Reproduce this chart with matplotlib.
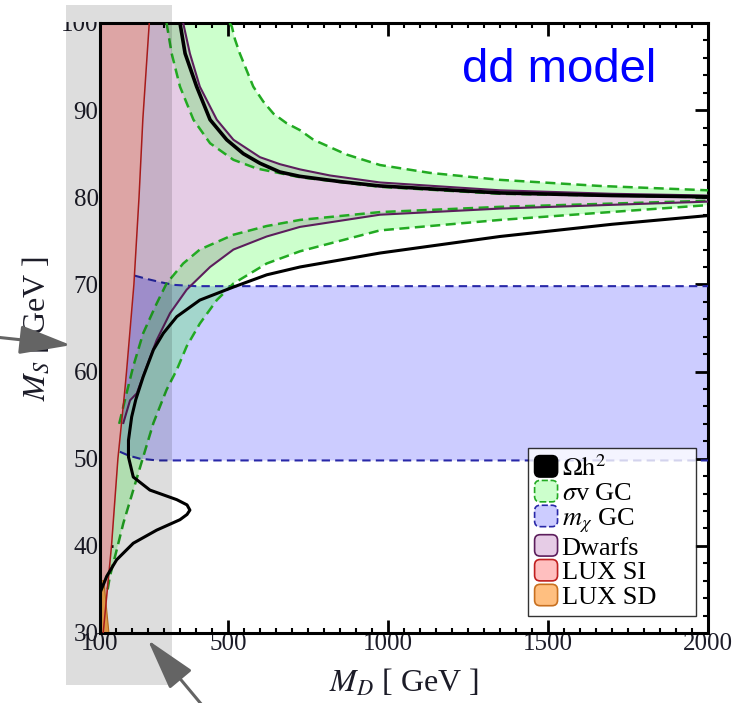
import numpy as np
import matplotlib.pyplot as plt
from matplotlib.patches import Patch, Rectangle, FancyArrowPatch, FancyBboxPatch
from matplotlib.legend_handler import HandlerPatch

plt.rcParams['font.family'] = 'Liberation Serif'
plt.rcParams['mathtext.fontset'] = 'stix'

md_lim = (100, 2000)
ms_lim = (30, 100)

# LUX SI exclusion boundary (excluded to the left)
lux_si_md = [110, 136, 156, 178, 183, 206, 222, 234, 254]
lux_si_ms = [30, 40, 50, 58, 60, 70, 80, 89, 100]

# LUX SD sliver
lux_sd_md = [103, 128, 112, 105]
lux_sd_ms = [30, 30, 36, 36]

# relic density, upper and lower branch
relic_up_md = [350, 366, 402, 444, 496, 548, 600, 662, 725, 850, 975, 1350, 1700, 2000]
relic_up_ms = [100, 96.5, 92.7, 88.9, 86.6, 85.0, 83.9, 82.9, 82.4, 81.8, 81.3, 80.5, 80.2, 80.05]
relic_lo_md = [100, 121, 152, 204, 277, 350, 372, 381, 372, 340, 256, 204, 189, 189, 199,
               212, 235, 267, 298, 340, 412, 517, 621, 725, 975, 1350, 1700, 2000]
relic_lo_ms = [34.6, 36.5, 38.4, 40.3, 41.8, 43.0, 43.6, 44.1, 44.7, 45.3, 46.4, 47.9, 50.2, 52.1, 54.8,
               56.8, 59.4, 62.5, 64.4, 66.3, 68.2, 69.7, 71.1, 72.0, 73.6, 75.5, 76.9, 77.9]

# GC annihilation cross section band, upper part
gc_up_out_md = [505, 512, 522, 537, 558, 579, 610, 642, 683, 725, 767, 871, 975, 1131, 1350, 1662, 2000]
gc_up_out_ms = [100, 99.6, 98.1, 96.5, 94.6, 92.7, 91.0, 89.6, 88.5, 87.7, 86.6, 84.9, 83.7, 82.8, 82.0, 81.3, 80.8]
gc_up_in_md = [308, 324, 350, 392, 444, 517, 590, 725, 975, 1350, 2000]
gc_up_in_ms = [100, 96.5, 92.7, 88.9, 86.2, 84.3, 83.3, 82.3, 81.2, 80.4, 80.0]

# GC annihilation cross section band, lower part
gc_lo_in_md = [160, 183, 204, 235, 277, 308, 360, 412, 517, 621, 725, 975, 1350, 2000]
gc_lo_in_ms = [54.0, 57.5, 60.6, 64.4, 67.8, 70.1, 72.4, 74.0, 75.7, 76.7, 77.4, 78.3, 78.9, 79.6]
gc_lo_out_md = [124, 131, 152, 173, 204, 235, 267, 308, 340, 371, 412, 465, 517, 621, 725, 975, 1350, 2000]
gc_lo_out_ms = [35.0, 36.5, 39.5, 42.6, 46.4, 50.2, 54.1, 57.9, 60.2, 62.9, 65.5, 68.2, 70.1, 72.4, 73.8, 76.2, 77.4, 79.1]

# dwarf limits
dw_up_md = [360, 381, 412, 465, 517, 600, 662, 725, 819, 975, 1350, 1700, 2000]
dw_up_ms = [100, 96.5, 92.7, 88.9, 86.6, 84.6, 83.8, 83.2, 82.5, 81.7, 80.8, 80.4, 80.2]
dw_lo_md = [173, 194, 215, 246, 277, 319, 371, 444, 517, 621, 725, 975, 1350, 2000]
dw_lo_ms = [54.1, 56.7, 57.5, 60.6, 63.6, 66.7, 69.4, 72.0, 74.0, 75.5, 76.6, 78.0, 78.7, 79.5]

# GC dark matter mass window
mx_top_md = [209, 250, 290, 330, 400, 2000]
mx_top_ms = [71.0, 70.6, 70.25, 69.95, 69.8, 69.8]
mx_bot_md = [162, 190, 225, 280, 2000]
mx_bot_ms = [50.8, 50.35, 50.0, 49.8, 49.8]

green = '#22aa22'
blue_line = '#2828a8'
purple = '#5c1e5c'
red_line = '#c02020'
ink = '#1c1c28'

fig = plt.figure(figsize=(7.39, 7.03), dpi=100)
ax = fig.add_axes([0.1353, 0.0996, 0.8227, 0.8677])

# filled regions
ax.fill([md_lim[0]] + dw_up_md + dw_lo_md[::-1] + [md_lim[0]],
        [ms_lim[1]] + dw_up_ms + dw_lo_ms[::-1] + [dw_lo_ms[0] - 2],
        color=(0.5, 0, 0.5), alpha=0.2, lw=0, zorder=1)
ax.fill([md_lim[0]] + mx_top_md + mx_bot_md[::-1] + [md_lim[0]],
        [mx_top_ms[0]] + mx_top_ms + mx_bot_ms[::-1] + [mx_bot_ms[0]],
        color=(0, 0, 1), alpha=0.2, lw=0, zorder=1)
ax.fill(gc_up_out_md + gc_up_in_md[::-1], gc_up_out_ms + gc_up_in_ms[::-1],
        color=(0, 1, 0), alpha=0.2, lw=0, zorder=1)
ax.fill(gc_lo_in_md + gc_lo_out_md[::-1], gc_lo_in_ms + gc_lo_out_ms[::-1],
        color=(0, 1, 0), alpha=0.2, lw=0, zorder=1)
ax.fill_betweenx(lux_si_ms, md_lim[0], lux_si_md, color=(1, 0.75, 0.75), lw=0, zorder=2)
ax.fill(lux_sd_md, lux_sd_ms, color='#ffaf50', ec='#d07a20', lw=0.8, zorder=2.1)

# boundaries
ax.plot(mx_top_md, mx_top_ms, color=blue_line, lw=1.5, ls=(0, (4, 2.5)), zorder=3)
ax.plot(mx_bot_md, mx_bot_ms, color=blue_line, lw=1.5, ls=(0, (4, 2.5)), zorder=3)
for md, ms in [(gc_up_out_md, gc_up_out_ms), (gc_up_in_md, gc_up_in_ms),
               (gc_lo_in_md, gc_lo_in_ms), (gc_lo_out_md, gc_lo_out_ms)]:
    ax.plot(md, ms, color=green, lw=1.8, ls=(0, (4, 2.2)), zorder=3)
ax.plot(dw_up_md, dw_up_ms, color=purple, lw=1.5, zorder=3.2)
ax.plot(dw_lo_md, dw_lo_ms, color=purple, lw=1.5, zorder=3.2)
ax.plot(relic_up_md, relic_up_ms, color='black', lw=2.6, zorder=3.5)
ax.plot(relic_lo_md, relic_lo_ms, color='black', lw=2.2, zorder=3.5)
ax.plot(lux_si_md, lux_si_ms, color=red_line, lw=1.1, zorder=3.3)

ax.set_xlim(*md_lim)
ax.set_ylim(*ms_lim)
ax.set_xticks([100, 500, 1000, 1500, 2000])
ax.set_xticks(np.arange(150, 2000, 50), minor=True)
ax.set_yticks(np.arange(30, 101, 10))
ax.set_yticks(np.arange(32, 100, 2), minor=True)
ax.tick_params(which='both', direction='in', top=True, right=True, colors='black',
               labelcolor=ink, labelsize=18)
ax.tick_params(which='major', length=9.5, width=2)
ax.tick_params(which='minor', length=3.6, width=1.5)
ax.tick_params(axis='y', pad=1)
ax.tick_params(axis='x', pad=0)
for sp in ax.spines.values():
    sp.set_linewidth(2.2)

ax.set_xlabel(r'$M_D$ [ GeV ]', fontsize=23, color=ink, labelpad=9)
ax.set_ylabel(r'$M_S$ [ GeV ]', fontsize=23, color=ink)
ax.yaxis.set_label_coords(-0.08, 0.5)

ax.text(0.755, 0.903, 'dd model', transform=ax.transAxes, ha='center', va='baseline',
        fontsize=34, color='#0000ff', family='Liberation Sans', zorder=5)


def rounded_box(legend, orig_handle, xdescent, ydescent, width, height, fontsize):
    return FancyBboxPatch((-xdescent, -ydescent), width, height,
                          boxstyle='round,pad=0,rounding_size=4')


handles = [Patch(fc='black', ec='black', lw=1.2),
           Patch(fc=(0.8, 1, 0.8), ec=green, ls='--', lw=1.2),
           Patch(fc=(0.8, 0.8, 1), ec=blue_line, ls='--', lw=1.2),
           Patch(fc=(0.9, 0.8, 0.9), ec=purple, lw=1.2),
           Patch(fc=(1, 0.75, 0.75), ec=red_line, lw=1.2),
           Patch(fc=(1, 0.75, 0.5), ec='#c87020', lw=1.2)]
labels = [r'$\mathrm{\Omega h}^2$', r'$\sigma$v GC', r'$m_\chi$ GC', 'Dwarfs', 'LUX SI', 'LUX SD']
leg = ax.legend(handles, labels, loc='upper left', mode='expand',
                bbox_to_anchor=(0.704, 0.0246, 0.276, 0.2784), borderaxespad=0,
                fontsize=19, labelspacing=0.0, handlelength=0.87, handleheight=0.87,
                handletextpad=0.15, borderpad=0.25, fancybox=False, framealpha=0.8,
                edgecolor='black', handler_map={Patch: HandlerPatch(patch_func=rounded_box)})
leg.get_frame().set_linewidth(1.0)
leg.set_zorder(6)

# the top y tick label is cut off at the frame
fig.add_artist(Rectangle((60 / 739, 1 - 21.5 / 703), 38.5 / 739, 21.5 / 703,
                         transform=fig.transFigure, fc='white', lw=0, zorder=4.9))

# highlighted low-mass strip and pointers
fig.add_artist(Rectangle((66 / 739, 1 - 685 / 703), 106 / 739, 680 / 703,
                         transform=fig.transFigure, fc='black', alpha=0.135, lw=0, zorder=5))
arrow_kw = dict(transform=fig.transFigure, arrowstyle='-|>,head_length=32,head_width=9',
                mutation_scale=1, lw=2.2, color='#646464', shrinkA=0, shrinkB=0, zorder=6)
fig.add_artist(FancyArrowPatch((-0.01, 0.521), (0.096, 0.509), **arrow_kw))
fig.add_artist(FancyArrowPatch((0.279, -0.01), (0.200, 0.0896), **arrow_kw))

fig.savefig('out.png', dpi=100)
